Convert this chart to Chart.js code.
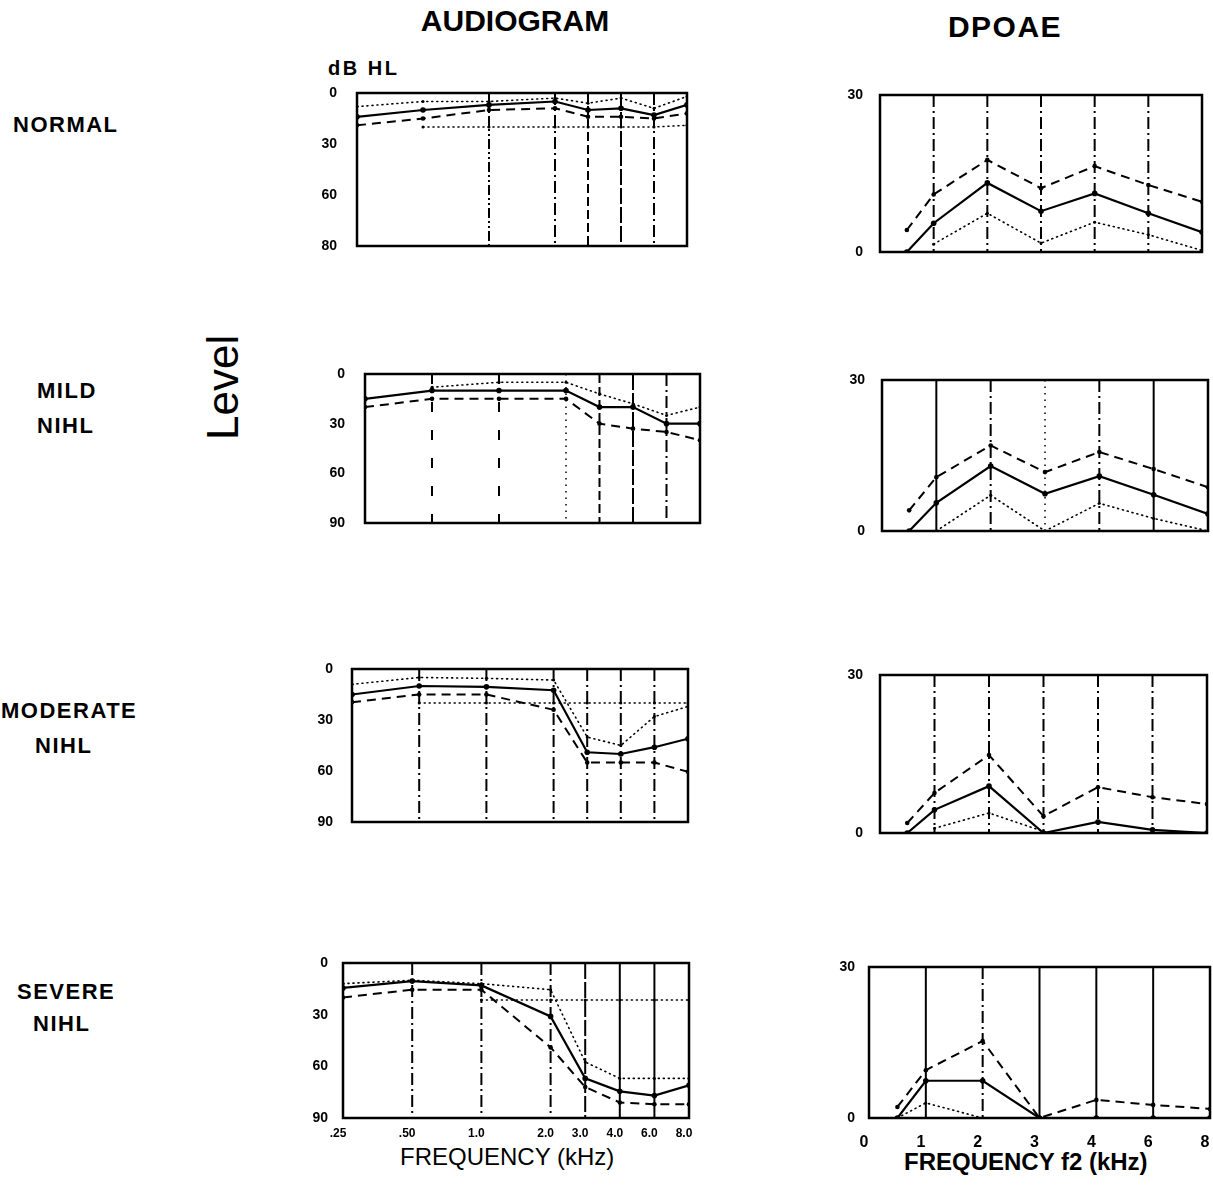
<!DOCTYPE html>
<html>
<head>
<meta charset="utf-8">
<script src="https://cdn.jsdelivr.net/npm/chart.js@4.4.1/dist/chart.umd.min.js"></script>
<style>
html, body { margin: 0; padding: 0; background: #fff; overflow: hidden; width: 1213px; height: 1191px; }
body { position: relative; font-family: "Liberation Sans", Arial, sans-serif; color: #000; }
.t { position: absolute; white-space: nowrap; line-height: 1; }
.lab { font-size: 22px; font-weight: bold; letter-spacing: 1.5px; }
.box { position: absolute; }
</style>
</head>
<body>
<div class="t" style="left:365px;width:300px;text-align:center;top:6px;font-size:30px;font-weight:bold;">AUDIOGRAM</div>
<div class="t" style="left:855px;width:300px;text-align:center;top:12px;font-size:30px;font-weight:bold;letter-spacing:1.5px;">DPOAE</div>
<div class="t" style="left:328px;top:58px;font-size:20px;font-weight:bold;letter-spacing:2.5px;">dB HL</div>

<div class="t lab" style="left:13px;top:114px;">NORMAL</div>
<div class="t lab" style="left:37px;top:380px;">MILD</div>
<div class="t lab" style="left:37px;top:415px;">NIHL</div>
<div class="t lab" style="left:1px;top:700px;">MODERATE</div>
<div class="t lab" style="left:35px;top:735px;">NIHL</div>
<div class="t lab" style="left:17px;top:981px;">SEVERE</div>
<div class="t lab" style="left:33px;top:1013px;">NIHL</div>
<div class="t" style="left:173px;top:368px;width:100px;text-align:center;font-size:44px;transform:rotate(-90deg);">Level</div>

<div class="t" style="left:400px;top:1145px;font-size:24px;">FREQUENCY (kHz)</div>
<div class="t" style="left:904px;top:1150px;font-size:24px;font-weight:bold;">FREQUENCY f2 (kHz)</div>

<script>
// ---- audiogram axis ----
const audFreqs = [0.25, 0.5, 1, 2, 3, 4, 6, 8];
const audFreqPos = [0, 1, 2, 3, 3.5, 4, 4.5, 5]; // octaves evenly spaced, 3k and 6k halfway
const audFreqLabels = ['.25', '.50', '1.0', '2.0', '3.0', '4.0', '6.0', '8.0'];
const audLevelTicks = [0, 30, 60, 90];
const audLevelLabels = ['0', '30', '60', '90'];
const audLevelLabelsFirst = ['0', '30', '60', '80']; // as printed on the top panel

// ---- audiogram series (dB HL) ----
const normAudMean  = [14, 10, 7, 5, 10, 9, 13, 7];
const normAudDash  = [19, 15, 10, 9, 14, 14, 15, 12];
const normAudDotHi = [8, 5, 5, 3, 6, 3, 9, 2];
const normAudDotLo = [null, 20, 20, 20, 20, 20, 20, 19];

const mildAudMean  = [15, 10, 10, 10, 20, 20, 30, 30];
const mildAudDash  = [20, 15, 15, 15, 30, 33, 35, 40];
const mildAudDotHi = [null, 8, 5, 5, 12, 18, 25, 20];
const mildAudDotLo = [null, null, null, null, null, null, null, null];

const modAudMean  = [15, 10, 10.5, 12.5, 49, 50, 46, 41];
const modAudDash  = [19.5, 15, 15, 24, 55, 55, 55, 60.5];
const modAudDotHi = [9, 5, 5.5, 6.5, 40, 45, 28, 22];
const modAudDotLo = [null, 20, 20, 20, 20, 20, 20, 20];

const sevAudMean  = [14.5, 10.5, 13, 31, 67, 74.5, 77, 71];
const sevAudDash  = [20, 15.5, 15.5, 49, 72, 81, 82, 82];
const sevAudDotHi = [12, 10, 12, 15.5, 57.5, 67, 67, 67];
const sevAudDotLo = [null, null, 21.5, 21.5, 21.5, 21.5, 21.5, 21.5];

// ---- DPOAE axis ----
const dpFreqLabels = ['0', '1', '2', '3', '4', '6', '8'];
const dpTickPos = [0, 1, 2, 3, 4, 5, 6];
const dpPointPos = [0.5, 1, 2, 3, 4, 5, 6];
const dpLevelTicks = [0, 30];
const dpLevelLabels = ['0', '30'];

// ---- DPOAE series ----
const normDpMean = [0, 5.5, 13.2, 7.8, 11.2, 7.4, 3.8];
const normDpDash = [4.2, 11, 17.6, 12.2, 16.4, 12.8, 9.6];
const normDpDot  = [null, 1.5, 7.4, 1.7, 5.7, 3.3, 0.3];

const mildDpMean = [0, 5.6, 12.9, 7.4, 10.9, 7.2, 3.4];
const mildDpDash = [4.1, 10.7, 17, 11.7, 15.7, 12.3, 8.7];
const mildDpDot  = [null, 0, 7.1, 0, 5.5, 2.5, 0];

const modDpMean = [0, 4.4, 8.9, 0, 2.1, 0.6, 0];
const modDpDash = [1.9, 7.6, 14.8, 3.2, 8.7, 6.8, 5.5];
const modDpDot  = [null, 0.9, 3.8, 0.3, null, null, null];

const sevDpMean = [0, 7.4, 7.4, 0, 0, 0, 0];
const sevDpDash = [2.2, 9.5, 15.3, 0, 3.6, 2.6, 1.8];
const sevDpDot  = [0, 3, 0, null, null, null, null];

// ---- page layout (plot rectangles in page pixels) ----
const audLayout = [
    { L: 357, T: 93,  R: 687, B: 246,  pad: 20 },
    { L: 365, T: 374, R: 700, B: 523,  pad: 20 },
    { L: 352, T: 669, R: 688, B: 822,  pad: 19 },
    { L: 343, T: 963, R: 689, B: 1118, pad: 15, showX: true }
];
const dpLayout = [
    { L: 880, T: 95,  R: 1202, B: 252,  pad: 17 },
    { L: 882, T: 380, R: 1208, B: 531,  pad: 17 },
    { L: 880, T: 675, R: 1207, B: 833,  pad: 17 },
    { L: 869, T: 967, R: 1210, B: 1118, pad: 14, showX: true }
];

// vertical guide line styles, one per inner frequency
const DASHES = {
    s: [], dd: [12, 4, 2, 4], ddd: [10, 3, 2, 3, 2, 3], dh: [9, 4], dl: [16, 3],
    dt: [1.5, 5], dg: [10, 18]
};
const audGuideStyles = [
    ['none', 'ddd', 'dd', 'dh', 'dl', 'dd'],
    ['dg', 'dg', 'dt', 'dh', 'dl', 'dd'],
    ['dd', 'dd', 'dd', 'dd', 'dd', 'dd'],
    ['dd', 'dd', 'dd', 'dl', 's', 's']
];
const dpGuideStyles = [
    ['dd', 'dd', 'dd', 'dd', 'dd'],
    ['s', 'dd', 'dt', 'dd', 's'],
    ['dd', 'dd', 'dd', 'dd', 'dd'],
    ['s', 'dd', 's', 's', 's']
];

Chart.defaults.font.family = '"Liberation Sans", Arial, sans-serif';
Chart.defaults.color = '#000';

// frame + vertical guides drawn from the x scale
const guides = {
    id: 'guides',
    beforeDatasetsDraw(chart, args, opts) {
        const { ctx, chartArea: a, scales: { x } } = chart;
        ctx.save();
        ctx.strokeStyle = '#000';
        (opts.lines || []).forEach(g => {
            if (g.style === 'none') return;
            const px = x.getPixelForValue(g.at);
            ctx.lineWidth = g.style === 'dt' ? 1.5 : 2;
            ctx.setLineDash(DASHES[g.style]);
            ctx.beginPath();
            ctx.moveTo(px, a.top);
            ctx.lineTo(px, a.bottom);
            ctx.stroke();
        });
        ctx.setLineDash([]);
        ctx.lineWidth = 2.5;
        ctx.strokeRect(a.left, a.top, a.right - a.left, a.bottom - a.top);
        ctx.restore();
    }
};
Chart.register(guides);

function series(xs, ys, kind) {
    const data = xs.map((x, i) => ({ x: x, y: ys[i] }));
    const base = { data: data, borderColor: '#000', pointBackgroundColor: '#000', pointBorderWidth: 0, tension: 0 };
    if (kind === 'solid') return Object.assign(base, { borderWidth: 2.2, pointRadius: 2.8 });
    if (kind === 'dash') return Object.assign(base, { borderWidth: 2, borderDash: [9, 6], pointRadius: 2.3 });
    return Object.assign(base, { borderWidth: 1.6, borderDash: [1, 4], borderCapStyle: 'round', pointRadius: 1.5 });
}

function makePanel(lay, cfg) {
    const axisW = 50, padT = 10, padR = cfg.padR;
    const xH = lay.showX ? 44 : 8;
    const w = lay.R - lay.L + axisW + padR;
    const h = lay.B - lay.T + padT + xH;
    const div = document.createElement('div');
    div.className = 'box';
    div.style.left = (lay.L - axisW) + 'px';
    div.style.top = (lay.T - padT) + 'px';
    div.style.width = w + 'px';
    div.style.height = h + 'px';
    const cv = document.createElement('canvas');
    cv.width = w; cv.height = h;
    cv.style.width = w + 'px'; cv.style.height = h + 'px';
    div.appendChild(cv);
    document.body.appendChild(div);

    new Chart(cv, {
        type: 'line',
        data: { datasets: cfg.datasets },
        options: {
            responsive: false,
            animation: false,
            events: [],
            layout: { padding: { top: padT, right: padR, left: 0, bottom: 0 } },
            plugins: {
                legend: { display: false },
                tooltip: { enabled: false },
                guides: { lines: cfg.guides }
            },
            scales: {
                x: {
                    type: 'linear',
                    min: cfg.xMin, max: cfg.xMax,
                    afterBuildTicks: s => { s.ticks = cfg.xTicks.map(v => ({ value: v })); },
                    afterFit: s => { s.height = xH; s.paddingLeft = 0; s.paddingRight = 0; },
                    grid: { display: false, drawTicks: false },
                    border: { display: false },
                    ticks: {
                        display: !!lay.showX,
                        autoSkip: false, maxRotation: 0,
                        padding: cfg.xPad, labelOffset: -5,
                        font: { size: cfg.xFont, weight: 'bold' },
                        callback: (v, i) => cfg.xLabels[i]
                    }
                },
                y: {
                    type: 'linear',
                    reverse: cfg.reverse,
                    min: cfg.yMin, max: cfg.yMax,
                    afterBuildTicks: s => { s.ticks = cfg.yTicks.map(v => ({ value: v })); },
                    // fixed gutter; drop the label padding Chart.js adds above and below
                    afterFit: s => { s.width = axisW; s.paddingTop = 0; s.paddingBottom = 0; },
                    grid: { display: false, drawTicks: false },
                    border: { display: false },
                    ticks: {
                        padding: lay.pad,
                        font: { size: 14, weight: 'bold' },
                        callback: (v, i) => cfg.yLabels[i]
                    }
                }
            }
        }
    });
}

const audSets = [
    [normAudMean, normAudDash, normAudDotHi, normAudDotLo],
    [mildAudMean, mildAudDash, mildAudDotHi, mildAudDotLo],
    [modAudMean, modAudDash, modAudDotHi, modAudDotLo],
    [sevAudMean, sevAudDash, sevAudDotHi, sevAudDotLo]
];
const dpSets = [
    [normDpMean, normDpDash, normDpDot],
    [mildDpMean, mildDpDash, mildDpDot],
    [modDpMean, modDpDash, modDpDot],
    [sevDpMean, sevDpDash, sevDpDot]
];

audSets.forEach((s, p) => {
    makePanel(audLayout[p], {
        padR: 10,
        datasets: [
            series(audFreqPos, s[0], 'solid'),
            series(audFreqPos, s[1], 'dash'),
            series(audFreqPos, s[2], 'dot'),
            series(audFreqPos, s[3], 'dot')
        ],
        guides: audFreqPos.slice(1, 7).map((at, i) => ({ at: at, style: audGuideStyles[p][i] })),
        xMin: 0, xMax: 5, xTicks: audFreqPos, xLabels: audFreqLabels, xPad: 8, xFont: 12,
        reverse: true, yMin: 0, yMax: 90, yTicks: audLevelTicks,
        yLabels: p === 0 ? audLevelLabelsFirst : audLevelLabels
    });
});

dpSets.forEach((s, p) => {
    makePanel(dpLayout[p], {
        padR: 6,
        datasets: [
            series(dpPointPos, s[0], 'solid'),
            series(dpPointPos, s[1], 'dash'),
            series(dpPointPos, s[2], 'dot')
        ],
        guides: dpTickPos.slice(1, 6).map((at, i) => ({ at: at, style: dpGuideStyles[p][i] })),
        xMin: 0, xMax: 6, xTicks: dpTickPos, xLabels: dpFreqLabels, xPad: 15, xFont: 16,
        reverse: false, yMin: 0, yMax: 30, yTicks: dpLevelTicks, yLabels: dpLevelLabels
    });
});
</script>
</body>
</html>
